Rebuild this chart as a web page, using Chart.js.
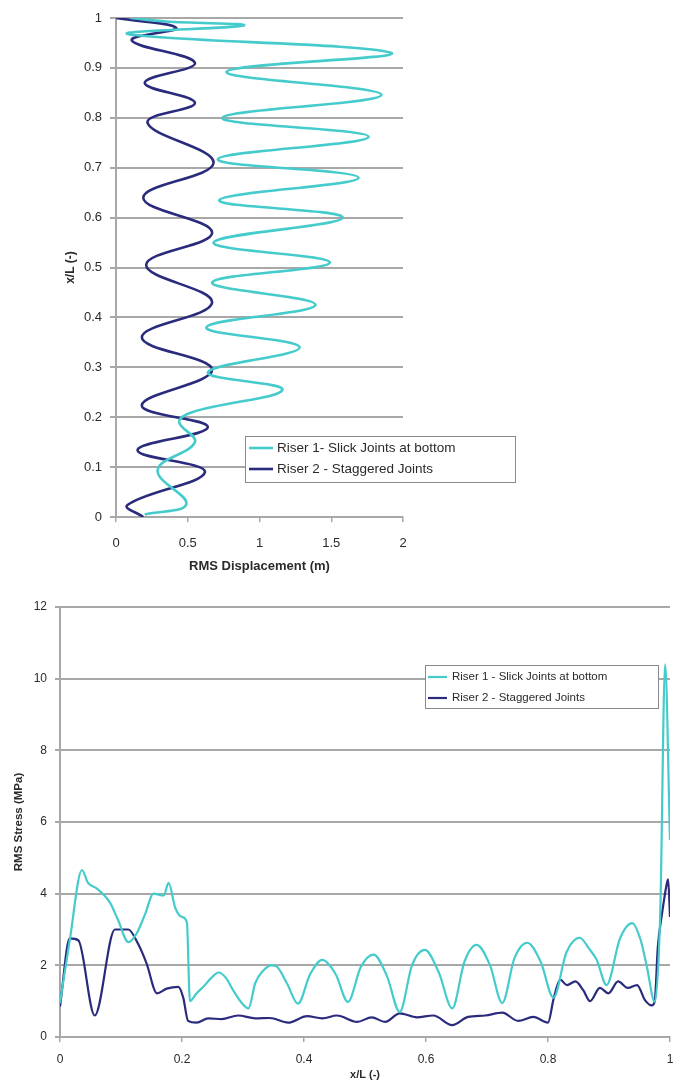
<!DOCTYPE html>
<html>
<head>
<meta charset="utf-8">
<script src="https://cdn.jsdelivr.net/npm/chart.js@4.4.1/dist/chart.umd.min.js"></script>
<style>
html,body{margin:0;padding:0;background:#fff;}
#wrap{position:relative;width:686px;height:1084px;overflow:hidden;background:#fff;}
#c1{position:absolute;left:0;top:0;width:686px;height:590px;}
#c2{position:absolute;left:0;top:590px;width:686px;height:494px;}
</style>
</head>
<body>
<div id="wrap">
<canvas id="c1" width="686" height="590"></canvas>
<canvas id="c2" width="686" height="494"></canvas>
</div>
<script>
// ---------- Top chart: RMS displacement vs x/L ----------
const topSeriesNames = ["Riser 1- Slick Joints at bottom", "Riser 2 - Staggered Joints"];
const topXTitle = "RMS Displacement (m)";
const topYTitle = "x/L (-)";
const topXTicks = [0, 0.5, 1, 1.5, 2];
const topYTicks = [0, 0.1, 0.2, 0.3, 0.4, 0.5, 0.6, 0.7, 0.8, 0.9, 1];

const r1Disp = [0.20, 0.49, 0.29, 0.55, 0.44, 0.53, 1.16, 0.64, 1.28, 0.63, 1.39, 0.67, 1.49, 0.68, 1.58, 0.72, 1.69, 0.71, 1.76, 0.74, 1.85, 0.77, 1.92, 0.08, 0.89, 0.35, 0.10];
const r1Pos  = [0.005, 0.026, 0.094, 0.15, 0.19, 0.21, 0.255, 0.29, 0.34, 0.38, 0.425, 0.47, 0.51, 0.55, 0.60, 0.635, 0.68, 0.717, 0.762, 0.80, 0.846, 0.892, 0.93, 0.968, 0.985, 0.993, 1.0];

const r2Disp = [0.19, 0.08, 0.62, 0.15, 0.64, 0.18, 0.67, 0.18, 0.67, 0.21, 0.67, 0.19, 0.68, 0.22, 0.55, 0.20, 0.55, 0.11, 0.42, 0.0];
const r2Pos  = [0.0, 0.024, 0.09, 0.134, 0.18, 0.224, 0.295, 0.36, 0.43, 0.505, 0.57, 0.64, 0.71, 0.79, 0.83, 0.87, 0.91, 0.955, 0.98, 1.0];

// ---------- Bottom chart: RMS stress vs x/L ----------
const botSeriesNames = ["Riser 1 - Slick Joints at bottom", "Riser 2 - Staggered Joints"];
const botXTitle = "x/L (-)";
const botYTitle = "RMS Stress (MPa)";
const botXTicks = [0, 0.2, 0.4, 0.6, 0.8, 1];
const botYTicks = [0, 2, 4, 6, 8, 10, 12];

const r1XL = [0, 0.016, 0.036, 0.046, 0.06, 0.082, 0.095, 0.112, 0.126, 0.14, 0.153, 0.17, 0.178, 0.189, 0.2, 0.208,
  0.213, 0.224, 0.235, 0.248, 0.26, 0.272, 0.284, 0.298, 0.309, 0.32, 0.333, 0.347, 0.355, 0.372, 0.39, 0.41, 0.43, 0.452,
  0.472, 0.493, 0.514, 0.536, 0.557, 0.577, 0.598, 0.621, 0.643, 0.663, 0.683, 0.705, 0.725, 0.745, 0.766, 0.788, 0.809,
  0.83, 0.852, 0.868, 0.88, 0.896, 0.918, 0.938, 0.952, 0.962, 0.975, 0.984, 0.992, 1.0];
const r1Stress = [0.95, 2.7, 4.66, 4.3, 4.15, 3.75, 3.27, 2.65, 2.9, 3.45, 4.0, 3.95, 4.3, 3.6, 3.35, 3.2,
  1.0, 1.22, 1.4, 1.65, 1.8, 1.65, 1.3, 0.95, 0.8, 1.5, 1.85, 2.0, 1.97, 1.5, 0.93, 1.75, 2.15, 1.75,
  0.98, 1.95, 2.3, 1.7, 0.7, 2.0, 2.43, 1.8, 0.8, 2.1, 2.57, 2.0, 0.95, 2.2, 2.63, 2.1, 1.1,
  2.35, 2.77, 2.45, 2.15, 1.45, 2.75, 3.18, 2.7, 1.97, 0.98, 3.45, 10.4, 5.5];

const r2XL = [0, 0.016, 0.03, 0.057, 0.09, 0.112, 0.128, 0.142, 0.159, 0.175, 0.194, 0.202, 0.21, 0.224, 0.243, 0.265,
  0.292, 0.32, 0.344, 0.374, 0.405, 0.43, 0.454, 0.487, 0.511, 0.533, 0.557, 0.585, 0.612, 0.643, 0.669, 0.697, 0.725,
  0.751, 0.776, 0.8, 0.809, 0.82, 0.831, 0.845, 0.858, 0.869, 0.885, 0.899, 0.915, 0.931, 0.946, 0.959, 0.97, 0.975,
  0.98, 0.987, 0.995, 0.997, 1.0];
const r2Stress = [0.85, 2.75, 2.7, 0.6, 3.0, 3.0, 2.6, 2.05, 1.22, 1.35, 1.4, 1.1, 0.45, 0.4, 0.52, 0.5,
  0.6, 0.52, 0.53, 0.4, 0.58, 0.52, 0.6, 0.42, 0.55, 0.42, 0.66, 0.55, 0.6, 0.33, 0.56, 0.6, 0.68,
  0.45, 0.56, 0.4, 1.05, 1.6, 1.45, 1.55, 1.3, 1.0, 1.37, 1.22, 1.55, 1.37, 1.45, 1.03, 0.88, 1.0,
  2.5, 3.45, 4.3, 4.4, 3.35];

// ---------- styling ----------
const FONT = "'Liberation Sans', Arial, Helvetica, sans-serif";
const CYAN = "#45cbcb";
const NAVY = "#2b2b7d";
const GRID = "#a8a8a8";
const TXT = "#2a2a2a";

function pts(xs, ys) { return xs.map((x, i) => ({x: x, y: ys[i]})); }
function fmt(v) { return String(Math.round(v * 100) / 100); }

const boxLegend = {
  id: 'boxLegend',
  afterDraw(chart, args, o) {
    const ctx = chart.ctx;
    ctx.save();
    ctx.fillStyle = '#fff';
    ctx.fillRect(o.x, o.y, o.w, o.h);
    ctx.strokeStyle = '#8a8a8a';
    ctx.lineWidth = 1;
    ctx.strokeRect(o.x + 0.5, o.y + 0.5, o.w, o.h);
    ctx.font = o.font + 'px ' + FONT;
    ctx.textBaseline = 'middle';
    ctx.textAlign = 'left';
    chart.data.datasets.forEach((ds, i) => {
      const cy = o.y + o.row0 + i * o.rowH;
      ctx.strokeStyle = ds.borderColor;
      ctx.lineWidth = o.lw;
      ctx.beginPath();
      ctx.moveTo(o.x + o.s0, cy);
      ctx.lineTo(o.x + o.s1, cy);
      ctx.stroke();
      ctx.fillStyle = TXT;
      ctx.fillText(ds.label, o.x + o.tx, cy);
    });
    ctx.restore();
  }
};
Chart.register(boxLegend);

// Top chart
new Chart(document.getElementById('c1'), {
  type: 'scatter',
  data: {
    datasets: [
      {label: topSeriesNames[0], data: pts(r1Disp, r1Pos), borderColor: CYAN, backgroundColor: CYAN,
       showLine: true, pointRadius: 0, borderWidth: 2.6, tension: 0.4},
      {label: topSeriesNames[1], data: pts(r2Disp, r2Pos), borderColor: NAVY, backgroundColor: NAVY,
       showLine: true, pointRadius: 0, borderWidth: 2.6, tension: 0.4}
    ]
  },
  options: {
    responsive: false, animation: false, events: [],
    layout: {padding: {left: 0, right: 283, top: 18, bottom: 0}},
    plugins: {
      legend: {display: false}, tooltip: {enabled: false},
      boxLegend: {x: 245, y: 436, w: 270, h: 46, font: 13.5, row0: 12, rowH: 21, s0: 4, s1: 28, tx: 32, lw: 2.6}
    },
    scales: {
      x: {
        type: 'linear', min: 0, max: 2,
        afterBuildTicks: s => { s.ticks = topXTicks.map(v => ({value: v})); },
        ticks: {padding: 14, font: {family: FONT, size: 13}, color: TXT, callback: fmt},
        grid: {drawOnChartArea: false, tickLength: 5, color: GRID, lineWidth: 1.5},
        border: {color: GRID, width: 2},
        title: {display: true, text: topXTitle, color: TXT, font: {family: FONT, size: 13, weight: 'bold'}, padding: {top: 0, bottom: 16}},
        afterFit: s => { s.height = 73; }
      },
      y: {
        type: 'linear', min: 0, max: 1,
        afterBuildTicks: s => { s.ticks = topYTicks.map(v => ({value: v})); },
        ticks: {padding: 8, font: {family: FONT, size: 13}, color: TXT, callback: fmt},
        grid: {color: GRID, lineWidth: 2, tickLength: 6},
        border: {color: GRID, width: 2},
        title: {display: true, text: topYTitle, color: TXT, font: {family: FONT, size: 12, weight: 'bold'}, padding: {top: 63, bottom: 0}},
        afterFit: s => { s.width = 116; }
      }
    }
  }
});

// Bottom chart
new Chart(document.getElementById('c2'), {
  type: 'scatter',
  data: {
    datasets: [
      {label: botSeriesNames[0], data: pts(r1XL, r1Stress), borderColor: CYAN, backgroundColor: CYAN,
       showLine: true, pointRadius: 0, borderWidth: 2.2, cubicInterpolationMode: 'monotone'},
      {label: botSeriesNames[1], data: pts(r2XL, r2Stress), borderColor: NAVY, backgroundColor: NAVY,
       showLine: true, pointRadius: 0, borderWidth: 2.2, cubicInterpolationMode: 'monotone'}
    ]
  },
  options: {
    responsive: false, animation: false, events: [],
    layout: {padding: {left: 0, right: 16, top: 17, bottom: 0}},
    plugins: {
      legend: {display: false}, tooltip: {enabled: false},
      boxLegend: {x: 425, y: 75, w: 233, h: 43, font: 11.5, row0: 12, rowH: 21, s0: 3, s1: 22, tx: 27, lw: 2.2}
    },
    scales: {
      x: {
        type: 'linear', min: 0, max: 1,
        afterBuildTicks: s => { s.ticks = botXTicks.map(v => ({value: v})); },
        ticks: {padding: 10, font: {family: FONT, size: 12}, color: TXT, callback: fmt},
        grid: {drawOnChartArea: false, tickLength: 5, color: GRID, lineWidth: 1.5},
        border: {color: GRID, width: 2},
        title: {display: true, text: botXTitle, color: TXT, font: {family: FONT, size: 11, weight: 'bold'}, padding: {top: 0, bottom: 2}},
        afterFit: s => { s.height = 47; }
      },
      y: {
        type: 'linear', min: 0, max: 12,
        afterBuildTicks: s => { s.ticks = botYTicks.map(v => ({value: v})); },
        ticks: {padding: 8, font: {family: FONT, size: 12}, color: TXT, callback: fmt},
        grid: {color: GRID, lineWidth: 2, tickLength: 5},
        border: {color: GRID, width: 2},
        title: {display: true, text: botYTitle, color: TXT, font: {family: FONT, size: 11.5, weight: 'bold'}, padding: {top: 12, bottom: 0}},
        afterFit: s => { s.width = 60; }
      }
    }
  }
});
</script>
</body>
</html>
